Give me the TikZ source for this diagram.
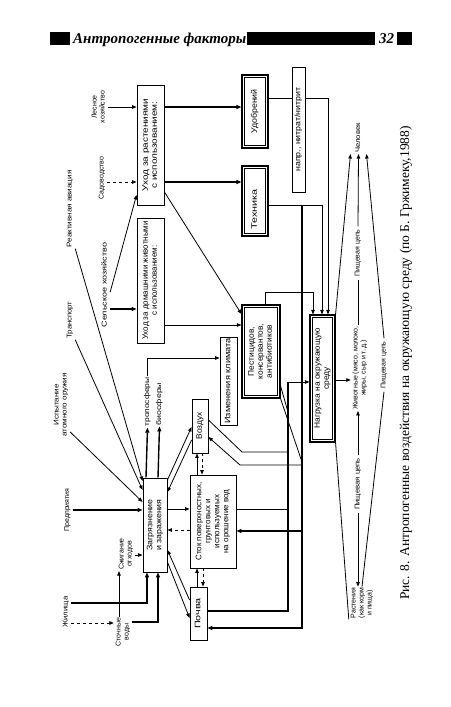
\documentclass[tikz,border=0pt]{standalone}
\usepackage{fontspec}
\setmainfont{Liberation Sans}
\newfontfamily\serifcap{Liberation Serif}
\usetikzlibrary{arrows.meta,calc}
\newcommand{\rtx}[2]{\rotatebox{90}{\scalebox{#1}[1]{\begin{tabular}{@{}c@{}}#2\end{tabular}}}}
\begin{document}
\begin{tikzpicture}[x=1pt,y=-1pt,
  box/.style={draw, line width=0.9pt, inner sep=0pt, fill=white, font=\fontsize{8}{9}\selectfont},
  dbl/.style={box, line width=1.1pt},
  inbox/.style={line width=0.6pt},
  lbl/.style={inner sep=1pt, font=\fontsize{7}{8}\selectfont},
  ln/.style={line width=0.8pt},
  arr/.style={ln, -{Triangle[length=4.5pt,width=3.5pt]}},
  thk/.style={line width=1.4pt, -{Triangle[length=5pt,width=4pt]}},
  thl/.style={line width=1.4pt}]
\useasboundingbox (0,0) rectangle (450,707);
\fill[white] (0,0) rectangle (450,707);
% header
\fill (50,32) rectangle (70,45);
\fill (247,32) rectangle (375,45);
\fill (397,32) rectangle (412,45);
\node[anchor=base west, inner sep=0pt, font=\serifcap\bfseries\itshape\fontsize{15}{16}\selectfont] (hdr) at (73,43) {Антропогенные факторы};
\node[anchor=base west, inner sep=0pt, font=\serifcap\bfseries\itshape\fontsize{15}{16}\selectfont] (p32) at (379,43) {32};
% caption
\node[inner sep=0pt, font=\serifcap\fontsize{13.5}{14}\selectfont] (cap) at (406,363) {\rotatebox{90}{Рис. 8. Антропогенные воздействия на окружающую среду (по Б. Гржимеку,1988)}};
% boxes
\node[box, minimum width=27pt, minimum height=120pt] (uhodr) at (150.5,145) {\rtx{1.25}{Уход за растениями\\с использованием:}};
\node[box, minimum width=27pt, minimum height=125pt] (uhodz) at (150.5,280.5) {\rtx{1.0}{Уход за домашними животными\\с использованием:}};
\node[dbl, minimum width=26pt, minimum height=73pt] (udobr) at (255,111.5) {\rtx{1.1}{Удобрений}};
\node[dbl, minimum width=26pt, minimum height=70pt] (tehn) at (255,201) {\rtx{1.35}{Техника\hspace*{12pt}}};
\node[box, minimum width=13pt, minimum height=125pt] (nitr) at (298.5,129.5) {\rtx{1.1}{напр., нитрат/нитрит}};
\node[dbl, minimum width=38pt, minimum height=93pt] (pest) at (261,351.5) {\rtx{1.05}{Пестицидов,\\консервантов,\\антибиотиков}};
\node[dbl, minimum width=25pt, minimum height=127pt] (nagr) at (322.5,378.5) {\rtx{1.05}{Нагрузка на окружающую\\среду}};
\node[box, minimum width=17pt, minimum height=88pt] (klim) at (228.5,381) {\rtx{1.15}{Изменения климата}};
\node[box, minimum width=16pt, minimum height=54pt] (vozd) at (200,426) {\rtx{1.05}{Воздух}};
\node[box, minimum width=46pt, minimum height=93pt] (stok) at (213,521.5) {\rtx{1.0}{Сток поверхностных,\\грунтовых и\\используемых\\на орошение вод}};
\node[box, minimum width=17pt, minimum height=53pt] (pochva) at (198.5,613.5) {\rtx{1.35}{Почва}};
\node[box, minimum width=24pt, minimum height=94pt] (zagr) at (155,525) {\rtx{1.1}{Загрязнение\\и заражения}};
% inner frames of double boxes
\foreach \n in {udobr,tehn,pest,nagr}
  \draw[inbox] ($(\n.north west)+(3,3)$) rectangle ($(\n.south east)-(3,3)$);
% labels
\node[lbl] (les) at (99,107) {\rtx{1}{Лесное\\хозяйство}};
\node[lbl] (sad) at (102,178) {\rtx{1}{Садоводство}};
\node[lbl] (reakt) at (70,209) {\rtx{1.15}{Реактивная авиация}};
\node[lbl] (selh) at (105,285) {\rtx{1.3}{Сельское хозяйство}};
\node[lbl] (transp) at (70,320) {\rtx{1.1}{Транспорт}};
\node[lbl] (ispyt) at (61,405) {\rtx{1.15}{Испытание\\атомного оружия}};
\node[lbl] (predp) at (67.5,510) {\rtx{1}{Предприятия}};
\node[lbl] (zhil) at (66,612) {\rtx{1.1}{Жилища}};
\node[lbl] (stoch) at (123,632) {\rtx{1}{Сточные\\воды}};
\node[lbl] (szhig) at (126,554) {\rtx{1}{Сжигание\\отходов}};
\node[lbl] (tropo) at (147.5,402) {\rtx{1.2}{тропосферы}};
\node[lbl] (bios) at (159.5,404) {\rtx{1.25}{биосферы}};
\node[lbl] (chel) at (358.5,138) {\rtx{1.1}{Человек}};
\node[lbl, inner sep=3pt] (pc1) at (358,253) {\rtx{1}{Пищевая цепь}};
\node[lbl] (zhiv) at (360,368) {\rtx{1}{Животные (мясо, молоко,\\жиры, сыр и т.\,д.)}};
\node[lbl, inner sep=3pt] (pc2) at (358,484) {\rtx{1.1}{Пищевая цепь}};
\node[lbl, inner sep=3pt] (pc3) at (384,365) {\rtx{1}{Пищевая цепь}};
\node[lbl] (rast) at (362,603) {\rtx{1}{Растения\\(как корм\\и пища)}};
% junction coordinates
\coordinate (j1) at (302,205);
\coordinate (j2) at (288,382);
% top inputs
\draw[arr] (les.east |- 0,107) -- (uhodr.west |- 0,107);
\draw[arr, dashed] (sad.east |- 0,182) -- (uhodr.west |- 0,182);
\draw[arr] (selh.east |- 0,292) -- (uhodr.west |- 0,195);
\draw[thk] (selh.east |- 0,309) -- (uhodz.west |- 0,309);
\draw[thk] (uhodr.east |- 0,107) -- (udobr.west |- 0,107);
\draw[thk] (uhodr.east |- 0,182) -- (tehn.west |- 0,182);
\draw[arr] (uhodr.east |- 0,192) -- (pest.west |- 0,314);
\draw[arr] (uhodz.east |- 0,325) -- (pest.west |- 0,325);
% to Nagruzka
\draw[ln] (udobr.east |- 0,98) -- (nitr.west |- 0,98);
\draw[arr] (nitr.east |- 0,98) -| (nagr.north -| 328,0);
\draw[arr] (tehn.east |- 0,205) -| (nagr.north -| 322,0);
\draw[arr] (pest.north -| 265,0) |- (313,292) -- (nagr.north -| 313,0);
\draw[thk] (j1) |- (pochva.east |- 0,628);
\draw[thl] (pochva.east |- 0,611) -| (j2);
\draw[arr] (j2) -- (nagr.west |- 0,382);
\fill (302,382) circle (1.4pt);
\draw[ln] (pest.south east) -- (302,462);
\draw[ln] (pest.east |- 0,386) -- (288,412);
% Vozduh, Stok
\draw[ln] (vozd.east |- 0,420) -- (242,452) -- (288,452);
\draw[arr] (302,465) -- (240,465) -- (vozd.east |- 0,437);
\draw[ln] (stok.east |- 0,509) -- (288,509);
\draw[thk] (302,531) -- (stok.east |- 0,531);
% Zagryaznenie inputs
\draw[thk] (predp.east |- 0,510) -- (zagr.west |- 0,510);
\draw[arr] (szhig.east |- 0,555) -- (zagr.west |- 0,555);
\draw[thk] (zhil.east |- 0,603) -| (zagr.south -| 147,0);
\draw[arr, dashed] (zhil.east |- 0,623) -- (stoch.west |- 0,623);
\draw[arr] (stoch.north -| 119,0) -- (szhig.south -| 119,0);
\draw[thk] (stoch.east |- 0,622) -| (zagr.south -| 158,0);
\draw[arr] (ispyt.east |- 0,432) -- (zagr.west |- 0,502);
\draw[arr] (transp.south east) -- (zagr.west |- 0,490);
\draw[arr] (reakt.south east) -- (zagr.west |- 0,481);
% Zagryaznenie outputs
\draw[thk] (zagr.north -| 146,0) -- (tropo.south);
\draw[thk] (zagr.north -| 158,0) -- (bios.south);
\draw[arr] (tropo.north) |- (klim.west |- 0,358);
\draw[arr] (zagr.east |- 0,480) -- (vozd.west |- 0,427);
\draw[arr] (vozd.west |- 0,440) -- (zagr.east |- 0,492);
\draw[arr] (zagr.east |- 0,509) -- (stok.west |- 0,509);
\draw[arr, dashed] (stok.west |- 0,530) -- (zagr.east |- 0,530);
\draw[arr] (pochva.west |- 0,600) -- (zagr.east |- 0,550);
\draw[arr] (zagr.east |- 0,562) -- (pochva.west |- 0,618);
\draw[arr] (stok.north -| 197,0) -- (vozd.south -| 197,0);
\draw[arr, dashed] (vozd.south -| 202,0) -- (stok.north -| 202,0);
\draw[arr] (pochva.north -| 197,0) -- (stok.south -| 197,0);
\draw[arr, dashed] (stok.south -| 203,0) -- (pochva.north -| 203,0);
% food chain
\draw[arr] (nagr.east |- 0,380) -- (zhiv.west |- 0,380);
\draw[ln] (zhiv.north -| pc1.south) -- (pc1.south);
\draw[arr] (pc1.north) -- (chel.south);
\draw[arr] (pc2.north) -- (zhiv.south -| pc2.north);
\draw[arr] (pc2.south) -- (rast.north -| pc2.south);
\draw[arr] (nagr.north east) -- ($(chel.south)+(-8,0)$);
\draw[ln] (nagr.south east) -- (rast.south west);
\draw[ln] (rast.north) -- (pc3.south);
\draw[arr] (pc3.north) -- ($(chel.south)+(8,0)$);
\end{tikzpicture}
\end{document}
